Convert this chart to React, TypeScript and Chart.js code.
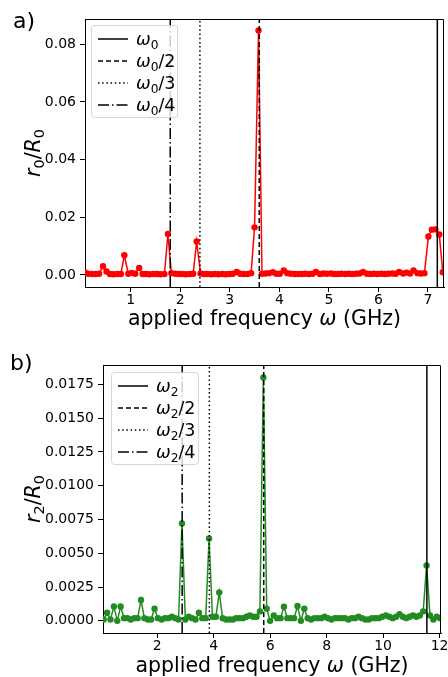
import React, { useEffect, useRef } from "react";
import { Chart, registerables } from "chart.js";
Chart.register(...registerables);

const FONT = '"DejaVu Sans"';

// ---------- Panel a ----------
const freqA = [
  0.07, 0.14, 0.22, 0.29, 0.36, 0.44, 0.51, 0.58, 0.65, 0.73,
  0.80, 0.87, 0.95, 1.02, 1.09, 1.17, 1.24, 1.31, 1.38, 1.46,
  1.53, 1.60, 1.68, 1.75, 1.82, 1.90, 1.97, 2.04, 2.11, 2.19,
  2.26, 2.33, 2.41, 2.48, 2.55, 2.63, 2.70, 2.77, 2.85, 2.92,
  2.99, 3.06, 3.14, 3.21, 3.28, 3.36, 3.43, 3.50, 3.58, 3.65,
  3.72, 3.79, 3.87, 3.94, 4.01, 4.09, 4.16, 4.23, 4.31, 4.38,
  4.45, 4.52, 4.60, 4.67, 4.74, 4.82, 4.89, 4.96, 5.04, 5.11,
  5.18, 5.25, 5.33, 5.40, 5.47, 5.55, 5.62, 5.69, 5.77, 5.84,
  5.91, 5.98, 6.06, 6.13, 6.20, 6.28, 6.35, 6.42, 6.50, 6.57,
  6.64, 6.71, 6.79, 6.86, 6.93, 7.01, 7.08, 7.15, 7.23, 7.30,
];
const r0 = [
  0.0009, 0.0004, 0.0003, 0.0003, 0.0004, 0.0030, 0.0012, 0.0003, 0.0002, 0.0003,
  0.0003, 0.0068, 0.0004, 0.0007, 0.0004, 0.0024, 0.0003, 0.0003, 0.0002, 0.0003,
  0.0003, 0.0002, 0.0003, 0.0142, 0.0006, 0.0004, 0.0003, 0.0003, 0.0002, 0.0003,
  0.0004, 0.0116, 0.0005, 0.0003, 0.0003, 0.0002, 0.0003, 0.0002, 0.0003, 0.0002,
  0.0003, 0.0004, 0.0010, 0.0004, 0.0003, 0.0003, 0.0006, 0.0165, 0.0848, 0.0004,
  0.0005, 0.0006, 0.0009, 0.0004, 0.0004, 0.0015, 0.0006, 0.0004, 0.0003, 0.0003,
  0.0003, 0.0004, 0.0003, 0.0004, 0.0010, 0.0003, 0.0005, 0.0004, 0.0005, 0.0003,
  0.0003, 0.0004, 0.0003, 0.0004, 0.0003, 0.0004, 0.0005, 0.0010, 0.0004, 0.0003,
  0.0004, 0.0003, 0.0004, 0.0003, 0.0004, 0.0005, 0.0004, 0.0010, 0.0005, 0.0008,
  0.0005, 0.0015, 0.0006, 0.0005, 0.0006, 0.0133, 0.0157, 0.0158, 0.0140, 0.0009,
];
const omega0 = 7.19;
const xTicksA = [1, 2, 3, 4, 5, 6, 7];
const xTickLabelsA = ["1", "2", "3", "4", "5", "6", "7"];
const yTicksA = [0, 0.02, 0.04, 0.06, 0.08];
const yTickLabelsA = ["0.00", "0.02", "0.04", "0.06", "0.08"];

// ---------- Panel b ----------
const freqB = [
  0.11, 0.23, 0.35, 0.47, 0.59, 0.71, 0.83, 0.95, 1.07, 1.19,
  1.31, 1.43, 1.55, 1.67, 1.79, 1.91, 2.03, 2.16, 2.28, 2.40,
  2.52, 2.64, 2.76, 2.88, 3.00, 3.12, 3.24, 3.36, 3.48, 3.60,
  3.72, 3.84, 3.96, 4.08, 4.20, 4.32, 4.44, 4.56, 4.68, 4.80,
  4.92, 5.04, 5.16, 5.28, 5.40, 5.52, 5.64, 5.76, 5.88, 6.00,
  6.13, 6.25, 6.37, 6.49, 6.61, 6.73, 6.85, 6.97, 7.09, 7.21,
  7.33, 7.45, 7.57, 7.69, 7.81, 7.93, 8.05, 8.17, 8.29, 8.41,
  8.53, 8.65, 8.77, 8.89, 9.01, 9.13, 9.25, 9.37, 9.49, 9.61,
  9.73, 9.85, 9.97, 10.10, 10.22, 10.34, 10.46, 10.58, 10.70, 10.82,
  10.94, 11.06, 11.18, 11.30, 11.42, 11.54, 11.66, 11.78, 11.90, 12.02,
];
const r2 = [
  0.0001, 0.0006, 0.0001, 0.00106, 0.0000, 0.00106, 0.0002, 0.0002, 0.0001, 0.0002,
  0.0002, 0.00155, 0.0002, 0.0001, 0.0001, 0.0009, 0.0002, 0.0001, 0.0002, 0.0002,
  0.0003, 0.0002, 0.0001, 0.0072, 0.0001, 0.0003, 0.0002, 0.0001, 0.0006, 0.0002,
  0.0002, 0.0061, 0.0003, 0.0003, 0.0021, 0.0002, 0.0001, 0.0001, 0.0001, 0.0002,
  0.0002, 0.0002, 0.0003, 0.0004, 0.0003, 0.0003, 0.0007, 0.0180, 0.0009, 0.0000,
  0.0004, 0.0002, 0.0002, 0.00105, 0.0002, 0.0002, 0.0002, 0.0011, 0.0000, 0.0009,
  0.0002, 0.0001, 0.0002, 0.0002, 0.0002, 0.0003, 0.0002, 0.0001, 0.0002, 0.0002,
  0.0002, 0.0002, 0.0001, 0.0002, 0.0002, 0.0003, 0.0002, 0.0001, 0.0001, 0.0002,
  0.0002, 0.0002, 0.0003, 0.0004, 0.0003, 0.0002, 0.0003, 0.0005, 0.0003, 0.0002,
  0.0003, 0.0004, 0.0003, 0.0004, 0.0007, 0.0041, 0.0004, 0.0001, 0.0003, 0.0002,
];
const omega2 = 11.55;
const xTicksB = [2, 4, 6, 8, 10, 12];
const xTickLabelsB = ["2", "4", "6", "8", "10", "12"];
const yTicksB = [0, 0.0025, 0.005, 0.0075, 0.01, 0.0125, 0.015, 0.0175];
const yTickLabelsB = ["0.0000", "0.0025", "0.0050", "0.0075", "0.0100", "0.0125", "0.0150", "0.0175"];

// harmonic divisors and their line styles (solid, dashed, dotted, dash-dot)
const divisors = [1, 2, 3, 4];
const dashes: number[][] = [[], [5, 3], [1.5, 2.7], [11, 3, 1.5, 3]];

type Seg = { t: string; it?: boolean; sub?: boolean };

function segFont(s: Seg, size: number) {
  const sz = s.sub ? size * 0.7 : size;
  return `${s.it ? "italic " : ""}${sz}px ${FONT}`;
}
function mathWidth(ctx: CanvasRenderingContext2D, segs: Seg[], size: number) {
  let w = 0;
  for (const s of segs) {
    ctx.font = segFont(s, size);
    w += ctx.measureText(s.t).width;
  }
  return w;
}
function drawMath(ctx: CanvasRenderingContext2D, segs: Seg[], x: number, y: number, size: number, align: "left" | "center" = "left") {
  let cx = align === "center" ? x - mathWidth(ctx, segs, size) / 2 : x;
  ctx.textAlign = "left";
  ctx.textBaseline = "alphabetic";
  ctx.fillStyle = "#000";
  for (const s of segs) {
    ctx.font = segFont(s, size);
    ctx.fillText(s.t, cx, y + (s.sub ? size * 0.2 : 0));
    cx += ctx.measureText(s.t).width;
  }
}

interface PanelSpec {
  x: number[];
  y: number[];
  color: string;
  omega: number;
  sym: string;
  xMin: number; xMax: number; yMin: number; yMax: number;
  xTicks: number[]; xTickLabels: string[];
  yTicks: number[]; yTickLabels: string[];
  padTop: number; padRight: number;
  yAxisWidth: number; xAxisHeight: number;
  panelLabel: string; panelLabelX: number; panelLabelY: number;
  yTitle: Seg[]; yTitleX: number;
  xTitleY: number;
  legendX: number; legendY: number; legendW: number; legendH: number;
}

function makeChart(canvas: HTMLCanvasElement, p: PanelSpec) {
  const vlines = divisors.map((d, k) => ({
    type: "line" as const,
    label: `w/${d}`,
    data: [{ x: p.omega / d, y: p.yMin }, { x: p.omega / d, y: p.yMax }],
    borderColor: "#000",
    borderWidth: 1.5,
    borderDash: dashes[k],
    pointRadius: 0,
    fill: false,
    order: 0,
    clip: 0,
  }));
  const dataSet = {
    type: "line" as const,
    label: "data",
    data: p.x.map((x, i) => ({ x, y: p.y[i] })),
    borderColor: p.color,
    backgroundColor: p.color,
    borderWidth: 1.5,
    pointRadius: 3.2,
    pointBorderWidth: 0,
    pointBackgroundColor: p.color,
    tension: 0,
    fill: false,
    order: 1,
    clip: 0,
  };

  const decor = {
    id: "decor",
    afterDraw(chart: any) {
      const ctx: CanvasRenderingContext2D = chart.ctx;
      const a = chart.chartArea;
      ctx.save();
      // top & right spines
      ctx.strokeStyle = "#000";
      ctx.lineWidth = 1;
      ctx.beginPath();
      ctx.moveTo(Math.round(a.left) + 0.5, Math.round(a.top) + 0.5);
      ctx.lineTo(Math.round(a.right) - 0.5, Math.round(a.top) + 0.5);
      ctx.lineTo(Math.round(a.right) - 0.5, Math.round(a.bottom));
      ctx.stroke();

      // legend
      const lx = p.legendX, ly = p.legendY, lw = p.legendW, lh = p.legendH;
      ctx.fillStyle = "rgba(255,255,255,0.8)";
      ctx.strokeStyle = "rgba(204,204,204,0.8)";
      ctx.lineWidth = 1;
      ctx.beginPath();
      (ctx as any).roundRect(lx + 0.5, ly + 0.5, lw, lh, 3);
      ctx.fill();
      ctx.stroke();
      divisors.forEach((d, k) => {
        const cy = ly + 14 + k * 22;
        ctx.strokeStyle = "#000";
        ctx.lineWidth = 1.5;
        ctx.setLineDash(dashes[k]);
        ctx.beginPath();
        ctx.moveTo(lx + 7, cy);
        ctx.lineTo(lx + 37, cy);
        ctx.stroke();
        ctx.setLineDash([]);
        const segs: Seg[] = [{ t: "ω", it: true }, { t: p.sym, sub: true }];
        if (d > 1) segs.push({ t: `/${d}` });
        drawMath(ctx, segs, lx + 45, cy + 6, 17.5);
      });

      // axis titles
      const cxMid = (a.left + a.right) / 2;
      drawMath(ctx, [{ t: "applied frequency " }, { t: "ω", it: true }, { t: " (GHz)" }], cxMid, p.xTitleY, 20.5, "center");
      ctx.save();
      ctx.translate(p.yTitleX, (a.top + a.bottom) / 2);
      ctx.rotate(-Math.PI / 2);
      drawMath(ctx, p.yTitle, 0, 0, 20.5, "center");
      ctx.restore();

      // panel label
      ctx.font = `22px ${FONT}`;
      ctx.fillStyle = "#000";
      ctx.textAlign = "left";
      ctx.textBaseline = "alphabetic";
      ctx.fillText(p.panelLabel, p.panelLabelX, p.panelLabelY);
      ctx.restore();
    },
  };

  return new Chart(canvas, {
    type: "line",
    data: { datasets: [...vlines, dataSet] as any },
    options: {
      animation: false,
      responsive: false,
      devicePixelRatio: 1,
      layout: { padding: { top: p.padTop, right: p.padRight, left: 0, bottom: 0 } },
      plugins: { legend: { display: false }, tooltip: { enabled: false }, title: { display: false } },
      scales: {
        x: {
          type: "linear",
          min: p.xMin,
          max: p.xMax,
          afterBuildTicks: (s: any) => { s.ticks = p.xTicks.map((v) => ({ value: v })); },
          afterFit: (s: any) => { s.height = p.xAxisHeight; s.paddingLeft = 0; s.paddingRight = 0; },
          ticks: {
            autoSkip: false,
            maxRotation: 0,
            padding: 0,
            color: "#000",
            font: { family: FONT, size: 14 },
            callback: (_v: any, i: number) => p.xTickLabels[i],
          },
          grid: { drawOnChartArea: false, drawTicks: true, tickLength: 5, color: "#000", tickWidth: 1 },
          border: { display: true, color: "#000", width: 1 },
        },
        y: {
          type: "linear",
          min: p.yMin,
          max: p.yMax,
          afterBuildTicks: (s: any) => { s.ticks = p.yTicks.map((v) => ({ value: v })); },
          afterFit: (s: any) => { s.width = p.yAxisWidth; s.paddingTop = 0; s.paddingBottom = 0; },
          ticks: {
            autoSkip: false,
            padding: 4,
            color: "#000",
            font: { family: FONT, size: 14 },
            callback: (_v: any, i: number) => p.yTickLabels[i],
          },
          grid: { drawOnChartArea: false, drawTicks: true, tickLength: 5, color: "#000", tickWidth: 1 },
          border: { display: true, color: "#000", width: 1 },
        },
      },
    } as any,
    plugins: [decor],
  });
}

const panelA: PanelSpec = {
  x: freqA, y: r0, color: "#ff0000", omega: omega0, sym: "0",
  xMin: 0.076, xMax: 7.325, yMin: -0.0042, yMax: 0.0888,
  xTicks: xTicksA, xTickLabels: xTickLabelsA, yTicks: yTicksA, yTickLabels: yTickLabelsA,
  padTop: 19, padRight: 1, yAxisWidth: 85, xAxisHeight: 51,
  panelLabel: "a)", panelLabelX: 13, panelLabelY: 28,
  yTitle: [{ t: "r", it: true }, { t: "0", sub: true }, { t: "/" }, { t: "R", it: true }, { t: "0", sub: true }],
  yTitleX: 40, xTitleY: 325,
  legendX: 91, legendY: 25, legendW: 86, legendH: 92,
};

const panelB: PanelSpec = {
  x: freqB, y: r2, color: "#228b22", omega: omega2, sym: "2",
  xMin: 0.085, xMax: 12.05, yMin: -0.0009, yMax: 0.01893,
  xTicks: xTicksB, xTickLabels: xTickLabelsB, yTicks: yTicksB, yTickLabels: yTickLabelsB,
  padTop: 27, padRight: 7, yAxisWidth: 103, xAxisHeight: 44,
  panelLabel: "b)", panelLabelX: 10, panelLabelY: 32,
  yTitle: [{ t: "r", it: true }, { t: "2", sub: true }, { t: "/" }, { t: "R", it: true }, { t: "0", sub: true }],
  yTitleX: 40, xTitleY: 334,
  legendX: 111, legendY: 34, legendW: 87, legendH: 92,
};

export default function App() {
  const refA = useRef<HTMLCanvasElement>(null);
  const refB = useRef<HTMLCanvasElement>(null);
  useEffect(() => {
    const ca = makeChart(refA.current!, panelA);
    const cb = makeChart(refB.current!, panelB);
    return () => {
      ca.destroy();
      cb.destroy();
    };
  }, []);
  return (
    <div style={{ position: "absolute", left: 0, top: 0, width: 448, height: 677, background: "#fff" }}>
      <canvas ref={refA} width={448} height={338} style={{ position: "absolute", left: 0, top: 0, width: 448, height: 338 }} />
      <canvas ref={refB} width={448} height={339} style={{ position: "absolute", left: 0, top: 338, width: 448, height: 339 }} />
    </div>
  );
}
